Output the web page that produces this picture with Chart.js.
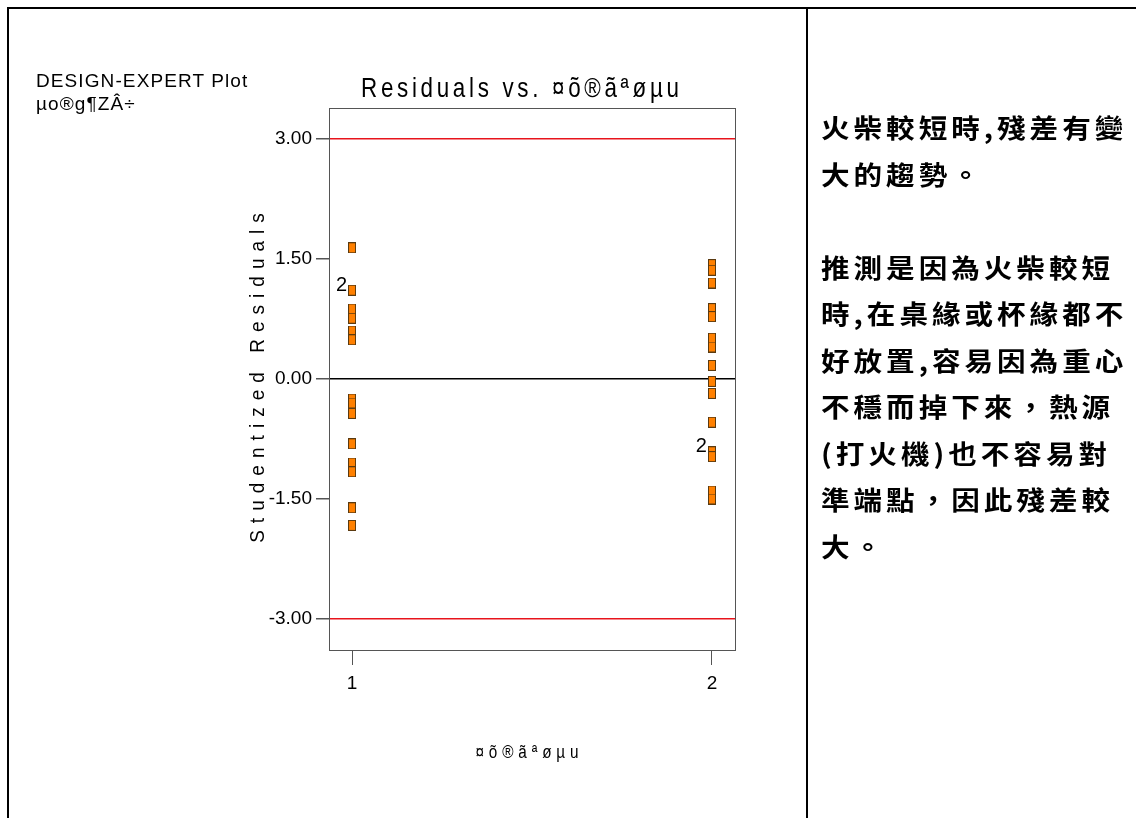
<!DOCTYPE html>
<html>
<head>
<meta charset="utf-8">
<script src="https://cdn.jsdelivr.net/npm/chart.js@4.4.1/dist/chart.umd.min.js"></script>
<style>
  html, body { margin: 0; padding: 0; background: #fff; }
  #page { position: relative; width: 1136px; height: 818px; overflow: hidden; }
  #plot { position: absolute; left: 0; top: 0; }
  .rule { position: absolute; background: #000; }
  .header { position: absolute; left: 36px; font: 19px "Liberation Sans", Arial, sans-serif; color: #000; white-space: nowrap; letter-spacing: 1.1px; }
  .note { position: absolute; left: 821px; top: 104px; font: bold 26px "Noto Sans CJK TC", "Noto Sans", sans-serif; color: #000;
          line-height: 46.5px; letter-spacing: 3.6px; white-space: nowrap;
          transform: scaleX(1.1); transform-origin: 0 0; }
</style>
</head>
<body>
<div id="page">
  <canvas id="plot" width="1136" height="818"></canvas>
  <div class="rule" style="left:7px; top:7px; width:1129px; height:2px;"></div>
  <div class="rule" style="left:7px; top:7px; width:2px; height:811px;"></div>
  <div class="rule" style="left:806px; top:7px; width:2px; height:811px;"></div>
  <div class="header" style="top:70px;">DESIGN-EXPERT Plot</div>
  <div class="header" style="top:93px;">µo®g¶ZÂ÷</div>
  <div class="note">火柴較短時,殘差有變<br>大的趨勢。<br><br>推測是因為火柴較短<br>時,在桌緣或杯緣都不<br>好放置,容易因為重心<br>不穩而掉下來，熱源<br>(打火機)也不容易對<br>準端點，因此殘差較<br>大。</div>
</div>
<script>
// Factor levels on the x axis
const categories = [1, 2];
const xTickLabels = ['1', '2'];

// Studentized residuals for each level
const level1Residuals = [1.64, 1.11, 1.11, 0.875, 0.76, 0.60, 0.49, -0.25, -0.30, -0.43, -0.81, -1.05, -1.16, -1.61, -1.83];
const level2Residuals = [1.43, 1.36, 1.20, 0.88, 0.78, 0.51, 0.40, 0.17, -0.03, -0.18, -0.54, -0.91, -0.91, -0.97, -1.40, -1.50];

// Y axis ticks and limit lines
const yTicks = [-3.00, -1.50, 0.00, 1.50, 3.00];
const limitValues = [-3.00, 3.00];

// Counts of coincident runs
const countLabels = [
  { x: 1, y: 1.11, text: '2' },
  { x: 2, y: -0.91, text: '2' }
];

const titleText = 'Residuals vs. ¤õ®ãªøµu';
const xTitleText = '¤õ®ãªøµu';
const yTitleText = 'Studentized Residuals';

// Orange rectangular marker
function makeMarker() {
  const c = document.createElement('canvas');
  c.width = 8; c.height = 11;
  const g = c.getContext('2d');
  g.fillStyle = '#ff8000';
  g.fillRect(0, 0, 8, 11);
  g.strokeStyle = '#5a3a10';
  g.lineWidth = 1;
  g.strokeRect(0.5, 0.5, 7, 10);
  return c;
}
const marker = makeMarker();

function spacedText(ctx, text, cx, cy, font, spacing, sx, angle) {
  ctx.save();
  ctx.translate(cx, cy);
  if (angle) ctx.rotate(angle);
  ctx.scale(sx, 1);
  ctx.font = font;
  ctx.letterSpacing = spacing + 'px';
  ctx.fillStyle = '#000';
  ctx.textAlign = 'center';
  ctx.textBaseline = 'middle';
  ctx.fillText(text, spacing / 2, 0);
  ctx.restore();
}

const decorations = {
  id: 'decorations',
  beforeDatasetsDraw(chart) {
    const { ctx, chartArea: a } = chart;
    ctx.save();
    ctx.strokeStyle = '#555';
    ctx.lineWidth = 1;
    ctx.strokeRect(Math.round(a.left) + 0.5, Math.round(a.top) + 0.5,
                   Math.round(a.right - a.left), Math.round(a.bottom - a.top));
    ctx.restore();
  },
  afterDraw(chart) {
    const { ctx, scales } = chart;
    spacedText(ctx, titleText, 520, 89, '28px "Liberation Sans", Arial, sans-serif', 4.6, 0.8, 0);
    spacedText(ctx, xTitleText, 527, 753, '18px "Liberation Sans", Arial, sans-serif', 5.7, 0.85, 0);
    spacedText(ctx, yTitleText, 258, 378, '20px "Liberation Sans", Arial, sans-serif', 7.4, 0.95, -Math.PI / 2);
    ctx.save();
    ctx.font = '20px "Liberation Sans", Arial, sans-serif';
    ctx.fillStyle = '#000';
    ctx.textAlign = 'right';
    ctx.textBaseline = 'middle';
    countLabels.forEach(l => {
      ctx.fillText(l.text, scales.x.getPixelForValue(l.x) - 5, scales.y.getPixelForValue(l.y) - 5);
    });
    ctx.restore();
  }
};

new Chart(document.getElementById('plot'), {
  type: 'scatter',
  data: {
    datasets: [
      { data: level1Residuals.map(v => ({ x: categories[0], y: v })) },
      { data: level2Residuals.map(v => ({ x: categories[1], y: v })) }
    ]
  },
  options: {
    responsive: false,
    animation: false,
    devicePixelRatio: 1,
    layout: { padding: { left: 229, right: 401, top: 108, bottom: 118 } },
    elements: { point: { pointStyle: marker, radius: 5 } },
    plugins: { legend: { display: false }, tooltip: { enabled: false } },
    scales: {
      x: {
        type: 'linear',
        min: 0.936,
        max: 2.064,
        afterBuildTicks: s => { s.ticks = categories.map(v => ({ value: v })); },
        afterFit: s => { s.height = 50; },
        ticks: {
          callback: v => xTickLabels[categories.indexOf(v)],
          font: { family: '"Liberation Sans", Arial, sans-serif', size: 19 },
          color: '#000',
          padding: 7,
          maxRotation: 0
        },
        grid: { drawOnChartArea: false, tickLength: 15, tickColor: '#555' },
        border: { display: false }
      },
      y: {
        min: -3.3875,
        max: 3.3875,
        afterBuildTicks: s => { s.ticks = yTicks.map(v => ({ value: v })); },
        afterFit: s => { s.width = 100; },
        ticks: {
          callback: v => v.toFixed(2),
          font: { family: '"Liberation Sans", Arial, sans-serif', size: 19 },
          color: '#000',
          padding: 4
        },
        grid: {
          color: c => {
            const v = c.tick && c.tick.value;
            if (limitValues.includes(v)) return '#e8141c';
            if (v === 0) return '#000';
            return 'rgba(0,0,0,0)';
          },
          lineWidth: 1.5,
          tickLength: 13,
          tickColor: '#555'
        },
        border: { display: false }
      }
    }
  },
  plugins: [decorations]
});
</script>
</body>
</html>
